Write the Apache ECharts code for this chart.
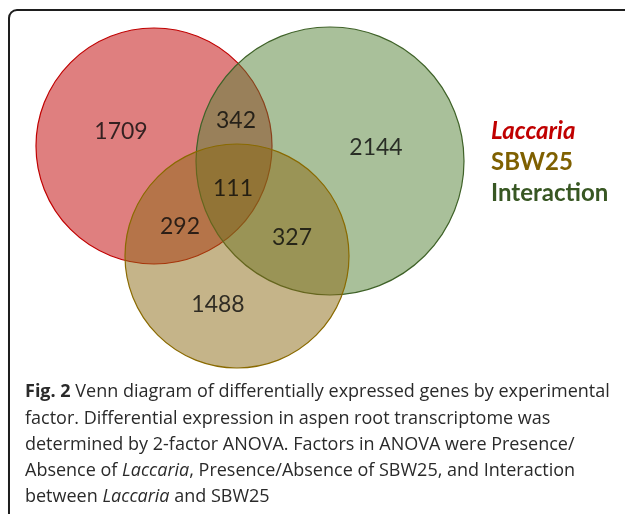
<!DOCTYPE html>
<html>
<head>
<meta charset="utf-8">
<script src="https://cdn.jsdelivr.net/npm/echarts@6/dist/echarts.min.js"></script>
<style>
  html, body { margin: 0; padding: 0; background: #fff; }
  #chart { width: 625px; height: 514px; }
</style>
</head>
<body>
<div id="chart"></div>
<script>
// sets (one circle each)
const setNames = ["Laccaria", "SBW25", "Interaction"];
const setColors = ["#c00000", "#8c6914", "#548235"];
const setEdges = ["#c00000", "#8a6a00", "#3f6228"];
const legendColors = ["#c00000", "#7f6000", "#385723"];

// region counts
const regionNames = ["Laccaria only", "Laccaria & Interaction", "Interaction only", "All three",
  "Laccaria & SBW25", "SBW25 & Interaction", "SBW25 only"];
const regionCounts = [1709, 342, 2144, 111, 292, 327, 1488];

// venn layout (diagram units)
const circleX = [154, 237, 330];
const circleY = [146, 256, 161];
const circleR = [118, 112, 134];
const labelX = [121, 236, 376, 233, 180, 292, 218];
const labelY = [132, 121, 148, 189, 227, 238, 305];

// draw order: Laccaria, Interaction, SBW25 on top
const drawOrder = [0, 2, 1];

var myChart = echarts.init(document.getElementById("chart"));

const circleSeries = drawOrder.map(i => ({
  name: setNames[i],
  type: "custom",
  coordinateSystem: "cartesian2d",
  silent: true,
  data: [[circleX[i], circleY[i], circleR[i]]],
  itemStyle: { color: setColors[i] },
  renderItem: function(params, api) {
    const c = api.coord([api.value(0), api.value(1)]);
    const r = api.size([api.value(2), 0])[0];
    return {
      type: "circle",
      shape: { cx: c[0], cy: c[1], r: r },
      style: {
        fill: echarts.color.modifyAlpha(setColors[i], 0.5),
        stroke: setEdges[i],
        lineWidth: 1.2
      }
    };
  }
}));

var option = {
  animation: false,
  grid: { left: 0, top: 0, width: 625, height: 514 },
  xAxis: { type: "value", min: 0, max: 625, show: false },
  yAxis: { type: "value", min: 0, max: 514, inverse: true, show: false },
  legend: {
    orient: "vertical",
    left: 481,
    top: 114,
    icon: "none",
    itemWidth: 0,
    itemHeight: 10,
    itemGap: 7,
    selectedMode: false,
    textStyle: { fontFamily: "Lato", fontWeight: "bold", fontSize: 24 },
    data: setNames.map((n, i) => ({
      name: n,
      textStyle: {
        color: legendColors[i],
        fontStyle: i === 0 ? "italic" : "normal",
        fontWeight: "bold",
        fontSize: 24,
        fontFamily: "Lato"
      }
    }))
  },
  series: circleSeries.concat([
    {
      name: "counts",
      type: "scatter",
      silent: true,
      symbolSize: 0,
      data: regionCounts.map((v, i) => ({ name: regionNames[i], value: [labelX[i], labelY[i], v] })),
      label: {
        show: true,
        position: "inside",
        formatter: p => p.value[2],
        color: "#0a0a0a",
        fontFamily: "Lato",
        fontSize: 23
      }
    }
  ]),
  graphic: [
    {
      type: "rect",
      silent: true,
      shape: { x: 9, y: 10, width: 640, height: 540, r: 8 },
      style: { fill: "none", stroke: "#1e1e1e", lineWidth: 2 }
    },
    {
      type: "text",
      silent: true,
      left: 25,
      top: 379,
      style: {
        text: "{b|Fig. 2} Venn diagram of differentially expressed genes by experimental\n" +
          "factor. Differential expression in aspen root transcriptome was\n" +
          "determined by 2-factor ANOVA. Factors in ANOVA were Presence/\n" +
          "Absence of {i|Laccaria}, Presence/Absence of SBW25, and Interaction\n" +
          "between {i|Laccaria} and SBW25",
        fontFamily: "Open Sans",
        fontSize: 18,
        lineHeight: 26.3,
        fill: "#2a2a2a",
        rich: {
          b: { fontFamily: "Open Sans", fontSize: 18, fontWeight: "bold", lineHeight: 26.3, fill: "#2a2a2a" },
          i: { fontFamily: "Open Sans", fontSize: 18, fontStyle: "italic", lineHeight: 26.3, fill: "#2a2a2a" }
        }
      }
    }
  ]
};

myChart.setOption(option);
</script>
</body>
</html>
